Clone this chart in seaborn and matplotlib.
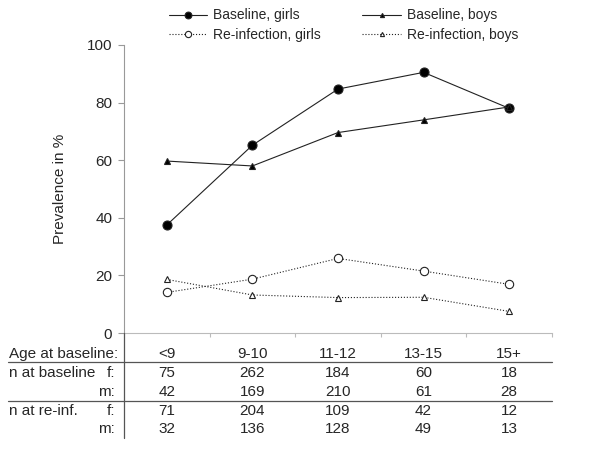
import matplotlib
matplotlib.use("Agg")
import matplotlib.pyplot as plt
import matplotlib.transforms as mtransforms
from matplotlib.lines import Line2D
import seaborn as sns
import pandas as pd

ages = ["<9", "9-10", "11-12", "13-15", "15+"]
baseline_girls = [37.5, 65.2, 84.7, 90.5, 78.0]
baseline_boys = [59.7, 58.0, 69.6, 74.0, 78.5]
reinf_girls = [14.1, 18.7, 25.9, 21.5, 16.9]
reinf_boys = [18.6, 13.2, 12.3, 12.4, 7.5]

n_base_f = [75, 262, 184, 60, 18]
n_base_m = [42, 169, 210, 61, 28]
n_reinf_f = [71, 204, 109, 42, 12]
n_reinf_m = [32, 136, 128, 49, 13]

sns.set_style("white")
plt.rcParams["font.family"] = ["Liberation Sans", "DejaVu Sans"]

fig = plt.figure(figsize=(6, 4.61), dpi=100)
ax = fig.add_axes([124 / 600, 1 - 333 / 461, 428 / 600, 288 / 461])

pos = list(range(len(ages)))
series = [
    ("Baseline, girls", baseline_girls, "-", "o", 6.5, "black"),
    ("Re-infection, girls", reinf_girls, ":", "o", 6, "white"),
    ("Baseline, boys", baseline_boys, "-", "^", 4, "black"),
    ("Re-infection, boys", reinf_boys, ":", "^", 4, "white"),
]
handles = []
for name, vals, ls, mk, ms, fc in series:
    df = pd.DataFrame({"x": pos, "y": vals})
    sns.lineplot(data=df, x="x", y="y", ax=ax, color="#222222", lw=0.8,
                 linestyle=ls, marker=mk, markersize=ms, markerfacecolor=fc,
                 markeredgecolor="#222222", markeredgewidth=0.8)
    handles.append(Line2D([], [], color="#222222", lw=0.8, linestyle=ls, marker=mk,
                          markersize=ms * 0.75, markerfacecolor=fc,
                          markeredgecolor="#222222", markeredgewidth=0.8, label=name))

ax.set_xlim(-0.5, 4.5)
ax.set_ylim(0, 100)
ax.set_yticks([0, 20, 40, 60, 80, 100])
ax.set_xticks([0.5, 1.5, 2.5, 3.5, 4.5])
ax.set_xticklabels([])
ax.set_xlabel("")
ax.set_ylabel("Prevalence in %", fontsize=11, labelpad=14)
ax.tick_params(axis="y", labelsize=11, length=4.5, color="#999999", pad=4)
ax.tick_params(axis="x", length=3, color="#bbbbbb", direction="out")
ax.tick_params(left=True, bottom=True)
for s in ["top", "right"]:
    ax.spines[s].set_visible(False)
ax.spines["left"].set_color("#999999")
ax.spines["bottom"].set_color("#bbbbbb")
ax.spines["left"].set_linewidth(0.8)
ax.spines["bottom"].set_linewidth(0.8)

fig.legend(handles=handles, ncol=2, loc="upper left",
           bbox_to_anchor=(156 / 600, 1.0 + 4 / 461),
           frameon=False, fontsize=10, handlelength=2.8, columnspacing=3.0,
           handletextpad=0.4, labelspacing=0.4)

# table under the axis
trans = mtransforms.blended_transform_factory(ax.transData, fig.transFigure)
ft = fig.transFigure
fs = 11
rows = [
    (1 - 354 / 461, ages),
    (1 - 373 / 461, n_base_f),
    (1 - 392 / 461, n_base_m),
    (1 - 411 / 461, n_reinf_f),
    (1 - 429 / 461, n_reinf_m),
]
for y, vals in rows:
    for x, v in zip(pos, vals):
        fig.text(x, y, str(v), transform=trans, ha="center", va="center", fontsize=fs)

fig.text(9 / 600, rows[0][0], "Age at baseline:", ha="left", va="center", fontsize=fs)
fig.text(9 / 600, rows[1][0], "n at baseline", ha="left", va="center", fontsize=fs)
fig.text(9 / 600, rows[3][0], "n at re-inf.", ha="left", va="center", fontsize=fs)
for y, lab in [(rows[1][0], "f:"), (rows[2][0], "m:"), (rows[3][0], "f:"), (rows[4][0], "m:")]:
    fig.text(115 / 600, y, lab, ha="right", va="center", fontsize=fs)

for y in [1 - 362 / 461, 1 - 401 / 461]:
    fig.add_artist(Line2D([8 / 600, 552 / 600], [y, y], transform=ft, color="#555555", lw=0.9))
fig.add_artist(Line2D([124 / 600, 124 / 600], [1 - 333 / 461, 1 - 438 / 461], transform=ft,
                      color="#555555", lw=0.9))

fig.savefig("out.png", dpi=100)
